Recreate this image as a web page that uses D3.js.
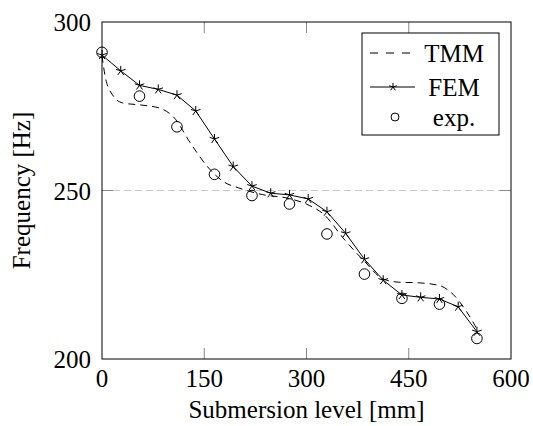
<!DOCTYPE html>
<meta charset="utf-8">
<script src="https://d3js.org/d3.v7.min.js"></script>
<div id="chart" style="position: relative; width: 533px; height: 426px;"></div>
<script>

// submersion level [mm] and frequencies [Hz]
var femX = [0, 27.5, 55, 82.5, 110, 137.5, 165, 192.5, 220, 247.5, 275, 302.5, 330, 357.5, 385, 412.5, 440, 467.5, 495, 522.5, 550];
var femY = [290.2, 285.5, 281.2, 280.0, 278.3, 273.6, 265.3, 257.1, 251.3, 249.2, 248.7, 247.5, 243.7, 237.3, 229.6, 223.4, 219.0, 218.3, 217.8, 215.5, 208.1];

var expX = [0, 55, 110, 165, 220, 275, 330, 385, 440, 495, 550];
var expY = [291.0, 278.0, 268.9, 254.8, 248.5, 246.0, 237.1, 225.2, 218.0, 216.3, 206.1];

var tmmX = [0, 5, 15, 30, 60, 85, 105, 130, 155, 180, 200, 235, 275, 305, 325, 355, 385, 412, 435, 465, 495, 515, 535, 552];
var tmmY = [290, 283.5, 278.5, 276, 275.3, 274.4, 271.8, 264, 257, 252.4, 250.8, 248.8, 247.6, 245.5, 243, 235.6, 229, 223.8, 222.8, 222.6, 221.8, 219.2, 214, 208.2];

var xTicks = [0, 150, 300, 450, 600];
var yTicks = [200, 250, 300];
var legendNames = ["TMM", "FEM", "exp."];

var W = 533, H = 426;
var margin = {top: 22, right: 22, bottom: 67, left: 102};
var width = W - margin.left - margin.right,
    height = H - margin.top - margin.bottom;

d3.select("body").style("margin", "0px");

var chart = d3.select("#chart");
var svg = chart.append("svg")
    .attr("width", W)
    .attr("height", H)
    .style("position", "absolute")
    .style("left", "0px")
    .style("top", "0px");

var x = d3.scaleLinear().domain([0, 600]).range([margin.left, margin.left + width]);
var y = d3.scaleLinear().domain([200, 300]).range([margin.top + height, margin.top]);

// html labels placed by baseline; anchor 0 = start, 0.5 = middle, 1 = end
function label(txt, bx, by, anchor, rotate) {
  var d = chart.append("div")
    .style("position", "absolute")
    .style("font-family", "Liberation Serif, Times New Roman, serif")
    .style("font-size", "25px")
    .style("line-height", "25px")
    .style("height", "25px")
    .style("white-space", "nowrap")
    .style("color", "black")
    .text(txt);
  var w = d.node().getBoundingClientRect().width;
  if (rotate) {
    // baseline sits 8.5px right of the box centre after rotating
    d.style("left", (bx - 8.5 - w / 2) + "px")
     .style("top", (by - 12.5) + "px")
     .style("transform", "rotate(-90deg)");
  } else {
    d.style("left", (bx - anchor * w) + "px")
     .style("top", (by - 21) + "px");
  }
  return d;
}

// grid line at 250
svg.append("line")
  .attr("x1", x(0)).attr("x2", x(600))
  .attr("y1", y(250)).attr("y2", y(250))
  .style("stroke", "#c8c8c8")
  .style("stroke-width", 1)
  .style("stroke-dasharray", "7,4");

// inner ticks (bottom and top, left and right)
var tickLen = 11;
xTicks.slice(1, -1).forEach(function(t) {
  svg.append("line").attr("x1", x(t)).attr("x2", x(t)).attr("y1", y(200)).attr("y2", y(200) - tickLen)
    .style("stroke", "#888").style("stroke-width", 1);
  svg.append("line").attr("x1", x(t)).attr("x2", x(t)).attr("y1", y(300)).attr("y2", y(300) + tickLen)
    .style("stroke", "#888").style("stroke-width", 1);
});
yTicks.slice(1, -1).forEach(function(t) {
  svg.append("line").attr("x1", x(0)).attr("x2", x(0) + tickLen).attr("y1", y(t)).attr("y2", y(t))
    .style("stroke", "#888").style("stroke-width", 1);
  svg.append("line").attr("x1", x(600) - tickLen).attr("x2", x(600)).attr("y1", y(t)).attr("y2", y(t))
    .style("stroke", "#888").style("stroke-width", 1);
});

// TMM dashed curve
var tmmData = tmmX.map(function(d, i) { return [d, tmmY[i]] });
svg.append("path")
  .datum(tmmData)
  .attr("d", d3.line()
    .x(function(d) { return x(d[0]) })
    .y(function(d) { return y(d[1]) })
    .curve(d3.curveMonotoneX))
  .style("fill", "none")
  .style("stroke", "black")
  .style("stroke-width", 1)
  .style("stroke-dasharray", "7,5");

// FEM solid line with stars
var femData = femX.map(function(d, i) { return [d, femY[i]] });
svg.append("path")
  .datum(femData)
  .attr("d", d3.line()
    .x(function(d) { return x(d[0]) })
    .y(function(d) { return y(d[1]) }))
  .style("fill", "none")
  .style("stroke", "black")
  .style("stroke-width", 1);

function starPath(r) {
  var p = "";
  for (var k = 0; k < 5; k++) {
    var a = -Math.PI / 2 + k * 2 * Math.PI / 5;
    p += "M0,0L" + (r * Math.cos(a)).toFixed(2) + "," + (r * Math.sin(a)).toFixed(2);
  }
  return p;
}

femData.forEach(function(d) {
  svg.append("path")
    .attr("transform", "translate(" + x(d[0]) + "," + y(d[1]) + ")")
    .attr("d", starPath(5))
    .style("fill", "none")
    .style("stroke", "black")
    .style("stroke-width", 1);
});

// experimental circles
expX.forEach(function(d, i) {
  svg.append("circle")
    .attr("cx", x(d))
    .attr("cy", y(expY[i]))
    .attr("r", 5.3)
    .style("fill", "none")
    .style("stroke", "black")
    .style("stroke-width", 1);
});

// frame
svg.append("rect")
  .attr("x", x(0)).attr("y", y(300))
  .attr("width", width).attr("height", height)
  .style("fill", "none")
  .style("stroke", "black")
  .style("stroke-width", 1);

// legend
var lx = 362, ly = 33;
svg.append("rect")
  .attr("x", lx).attr("y", ly)
  .attr("width", 137).attr("height", 102)
  .style("fill", "white")
  .style("stroke", "black")
  .style("stroke-width", 1);

var rowY = [20, 54, 84];
legendNames.forEach(function(name, i) {
  var yy = ly + rowY[i];
  if (i == 0) {
    svg.append("line").attr("x1", lx + 8).attr("x2", lx + 53).attr("y1", yy).attr("y2", yy)
      .style("stroke", "black").style("stroke-dasharray", "8,8");
  } else if (i == 1) {
    svg.append("line").attr("x1", lx + 8).attr("x2", lx + 53).attr("y1", yy).attr("y2", yy)
      .style("stroke", "black");
    svg.append("path").attr("transform", "translate(" + (lx + 31) + "," + yy + ")").attr("d", starPath(4))
      .style("fill", "none").style("stroke", "black");
  } else {
    svg.append("circle").attr("cx", lx + 33).attr("cy", yy).attr("r", 4)
      .style("fill", "none").style("stroke", "black");
  }
  label(name, lx + 92, yy + 9, 0.5);
});

// tick labels and axis titles
xTicks.forEach(function(t) { label(String(t), x(t), y(200) + 28, 0.5); });
yTicks.forEach(function(t) { label(String(t), x(0) - 11, y(t) + 9, 1); });
label("Submersion level [mm]", (x(0) + x(600)) / 2, y(200) + 59, 0.5);
label("Frequency [Hz]", 30, (y(200) + y(300)) / 2, 0.5, true);
</script>
